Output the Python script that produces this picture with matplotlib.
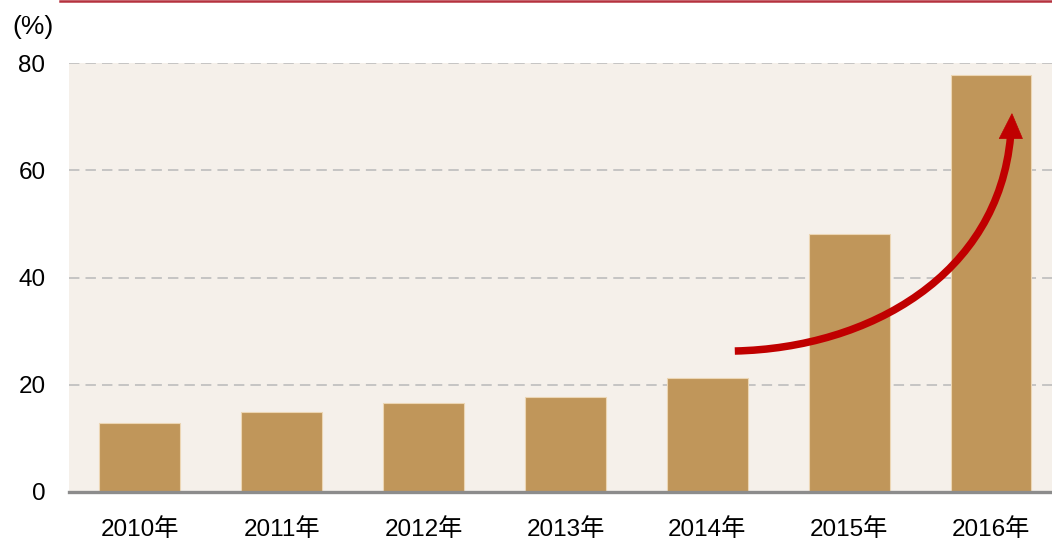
import matplotlib
matplotlib.use("Agg")
import matplotlib.pyplot as plt
from matplotlib.patches import PathPatch, Polygon
from matplotlib.path import Path
from matplotlib.lines import Line2D

years = ["2010年", "2011年", "2012年", "2013年", "2014年", "2015年", "2016年"]
values = [12.8, 14.9, 16.6, 17.7, 21.3, 48.2, 77.8]
yticks = [0, 20, 40, 60, 80]

FONT = ["Liberation Sans", "Noto Sans CJK SC", "DejaVu Sans"]
plt.rcParams["font.family"] = FONT

W, H = 1052, 545
fig = plt.figure(figsize=(W / 100, H / 100), dpi=100)
fig.patch.set_facecolor("white")
ax = fig.add_axes([69 / W, 1 - 492 / H, (W - 69) / W, 429 / H])
ax.set_facecolor("#f5f0ea")

x = list(range(len(years)))
ax.bar(x, values, width=0.57, color="#c0965a", edgecolor="#ecd6b4", linewidth=0.8, zorder=3)

ax.set_xlim(-0.5, (W - 140.5) / 141.75)
ax.set_ylim(0, 80)
ax.set_yticks(yticks)
ax.set_yticklabels([str(v) for v in yticks])
ax.set_xticks(x)
ax.set_xticklabels(years)
ax.tick_params(axis="y", length=0, pad=17, labelsize=17.5)
ax.tick_params(axis="x", length=0, pad=19, labelsize=17.5)
ax.yaxis.grid(True, color="#bfbfbf", linestyle=(0, (6, 3.5)), linewidth=1.25, zorder=1)
for s in ["top", "right", "left"]:
    ax.spines[s].set_visible(False)
ax.spines["bottom"].set_color("#8c8c8c")
ax.spines["bottom"].set_linewidth(2.4)
ax.spines["bottom"].set_zorder(4)

# curved arrow (annotation): shaft + head
RED = "#c00000"
verts = [(4.194, 26.29), (5.146, 26.85), (6.05, 40.5), (6.138, 66.3)]
path = Path(verts, [Path.MOVETO, Path.CURVE4, Path.CURVE4, Path.CURVE4])
ax.add_patch(PathPatch(path, facecolor="none", edgecolor=RED, lw=5.4,
                       capstyle="butt", zorder=5))
head = [(6.148, 70.55), (6.058, 65.9), (6.222, 65.9)]
ax.add_patch(Polygon(head, closed=True, facecolor=RED, edgecolor=RED, lw=0.5, zorder=6))

fig.text(33 / W, 1 - 27 / H, "(%)", ha="center", va="center", fontsize=19, family=FONT)
fig.add_artist(Line2D([60 / W, 1], [1 - 0.8 / H, 1 - 0.8 / H], color="#b5323f", lw=1.8,
                      transform=fig.transFigure))

fig.savefig("out.png", dpi=100)
